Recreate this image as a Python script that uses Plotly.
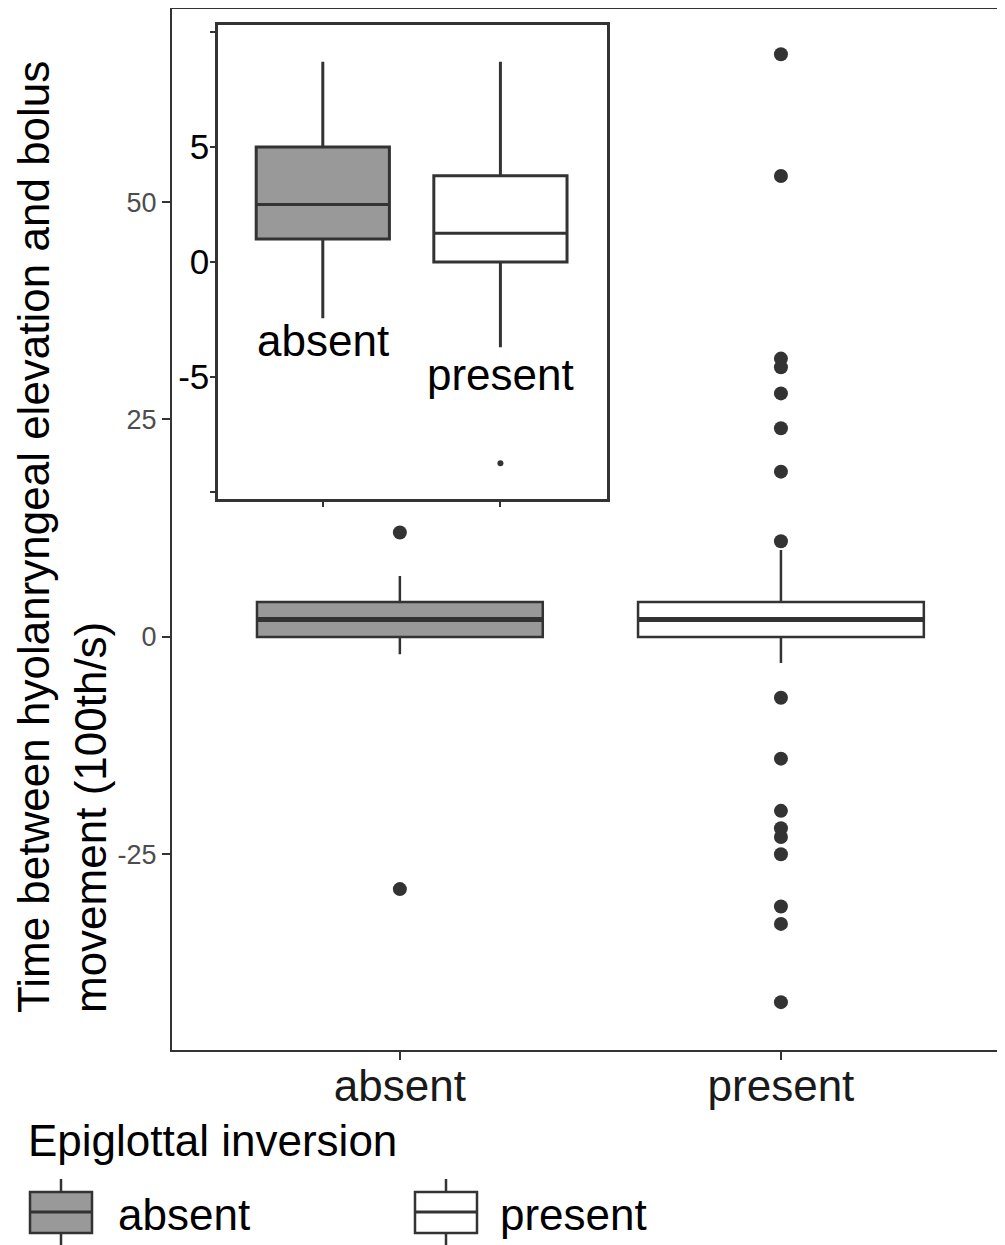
import plotly.graph_objects as go

# ---------------- data ----------------
categories = ["absent", "present"]
fill_colors = ["#999999", "#ffffff"]

main_q1 = [0, 0]
main_median = [2, 2]
main_q3 = [4, 4]
main_lowerfence = [-2, -3]
main_upperfence = [7, 10]
absent_outliers = [12, -29]
present_outliers = [67, 53, 32, 31, 28, 24, 19, 11, -7, -14, -20, -22, -23, -25, -31, -33, -42]

inset_q1 = [1, 0]
inset_median = [2.5, 1.25]
inset_q3 = [5, 3.75]
inset_lowerfence = [-2.45, -3.7]
inset_upperfence = [8.7, 8.7]
inset_present_outliers = [-8.75]
inset_label_y = [-3.4, -4.9]

main_yticks = [-25, 0, 25, 50]
main_yticktext = ["-25", "0", "25", "50"]
inset_yticks = [-10, -5, 0, 5, 10]
inset_yticktext = ["", "-5", "0", "5", ""]

y_title = "Time between hyolanryngeal elevation and bolus<br>movement (100th/s)"
legend_title = "Epiglottal inversion"

# ---------------- layout helpers ----------------
OFF = 8                      # browser body margin
W, H = 1005 - OFF, 1245 - OFF
L, R, T, B = 172 - OFF, 0, 9 - OFF, 195
PW, PH = W - L - R, H - T - B


def px_x(p):
    return (p - OFF - L) / PW


def px_y(p):
    return (H - B - (p - OFF)) / PH


LINE = "#333333"
BOXW = 0.75
BIG = 44

fig = go.Figure()

# main boxes
for i, cat in enumerate(categories):
    fig.add_trace(go.Box(
        x=[i], q1=[main_q1[i]], median=[main_median[i]], q3=[main_q3[i]],
        lowerfence=[main_lowerfence[i]], upperfence=[main_upperfence[i]],
        fillcolor=fill_colors[i], line=dict(color=LINE, width=2.5),
        width=BOXW, boxpoints=False, whiskerwidth=0, name=cat,
        showlegend=False, xaxis="x", yaxis="y", hoverinfo="skip"))
    # thicker median line (ggplot style)
    fig.add_trace(go.Scatter(
        x=[i - BOXW / 2, i + BOXW / 2], y=[main_median[i]] * 2, mode="lines",
        line=dict(color=LINE, width=5), showlegend=False, hoverinfo="skip",
        xaxis="x", yaxis="y"))

fig.add_trace(go.Scatter(
    x=[0] * len(absent_outliers), y=absent_outliers, mode="markers",
    marker=dict(color=LINE, size=14), showlegend=False, xaxis="x", yaxis="y"))
fig.add_trace(go.Scatter(
    x=[1] * len(present_outliers), y=present_outliers, mode="markers",
    marker=dict(color=LINE, size=14), showlegend=False, xaxis="x", yaxis="y"))

# inset boxes
for i, cat in enumerate(categories):
    fig.add_trace(go.Box(
        x=[i], q1=[inset_q1[i]], median=[inset_median[i]], q3=[inset_q3[i]],
        lowerfence=[inset_lowerfence[i]], upperfence=[inset_upperfence[i]],
        fillcolor=fill_colors[i], line=dict(color=LINE, width=3),
        width=BOXW, boxpoints=False, whiskerwidth=0, name=cat,
        showlegend=False, xaxis="x2", yaxis="y2", hoverinfo="skip"))

fig.add_trace(go.Scatter(
    x=[1] * len(inset_present_outliers), y=inset_present_outliers, mode="markers",
    marker=dict(color=LINE, size=6), showlegend=False, xaxis="x2", yaxis="y2"))

# inset category labels (text inside inset)
for i, cat in enumerate(categories):
    fig.add_annotation(x=i, y=inset_label_y[i], xref="x2", yref="y2", text=cat,
                       showarrow=False, font=dict(size=BIG, color="#000000"),
                       xanchor="center", yanchor="middle")

# y-axis title
fig.add_annotation(x=px_x(62), y=px_y(537), xref="paper", yref="paper",
                   text=y_title, textangle=-90, align="left", showarrow=False,
                   font=dict(size=BIG, color="#000000"),
                   xanchor="center", yanchor="middle")

# legend (drawn manually to mimic ggplot boxplot keys)
fig.add_annotation(x=px_x(26), y=px_y(1140), xref="paper", yref="paper",
                   text=legend_title, showarrow=False,
                   font=dict(size=BIG, color="#000000"),
                   xanchor="left", yanchor="middle")
legend_x = [30, 415]
legend_text_x = [116, 498]
for i, cat in enumerate(categories):
    x0, x1 = legend_x[i], legend_x[i] + 62
    xm = (x0 + x1) / 2
    fig.add_shape(type="rect", xref="paper", yref="paper",
                  x0=px_x(x0), x1=px_x(x1), y0=px_y(1233), y1=px_y(1192),
                  fillcolor=fill_colors[i], line=dict(color=LINE, width=2.5))
    fig.add_shape(type="line", xref="paper", yref="paper",
                  x0=px_x(x0), x1=px_x(x1), y0=px_y(1212), y1=px_y(1212),
                  line=dict(color=LINE, width=3))
    fig.add_shape(type="line", xref="paper", yref="paper",
                  x0=px_x(xm), x1=px_x(xm), y0=px_y(1192), y1=px_y(1179),
                  line=dict(color=LINE, width=2.5))
    fig.add_shape(type="line", xref="paper", yref="paper",
                  x0=px_x(xm), x1=px_x(xm), y0=px_y(1233), y1=px_y(1246),
                  line=dict(color=LINE, width=2.5))
    fig.add_annotation(x=px_x(legend_text_x[i]), y=px_y(1214), xref="paper", yref="paper",
                       text=cat, showarrow=False, font=dict(size=BIG, color="#000000"),
                       xanchor="left", yanchor="middle")

fig.update_layout(
    width=W, height=H, autosize=False,
    margin=dict(l=L, r=R, t=T, b=B, pad=0),
    paper_bgcolor="white", plot_bgcolor="white",
    font=dict(family="Liberation Sans, Arial, sans-serif", color="#000000"),
    boxmode="overlay",
    showlegend=False,
    xaxis=dict(domain=[0, 1], range=[-0.598, 1.588], tickmode="array",
               tickvals=list(range(len(categories))), ticktext=categories,
               tickfont=dict(size=BIG, color="#1a1a1a"), ticklabelstandoff=-12,
               ticks="outside", ticklen=8, tickwidth=2, tickcolor=LINE,
               showline=True, mirror=True, linecolor=LINE, linewidth=2,
               showgrid=False, zeroline=False),
    yaxis=dict(domain=[0, 1], range=[-47.5, 72.2], tickmode="array",
               tickvals=main_yticks, ticktext=main_yticktext,
               tickfont=dict(size=27, color="#4d4d4d"),
               ticks="outside", ticklen=8, tickwidth=2, tickcolor=LINE,
               showline=True, mirror=False, linecolor=LINE, linewidth=2,
               showgrid=False, zeroline=False),
    xaxis2=dict(domain=[px_x(218), px_x(607)], range=[-0.59, 1.6], anchor="y2",
                tickmode="array", tickvals=list(range(len(categories))),
                ticktext=["", ""], ticks="outside", ticklen=5, tickwidth=1.5,
                tickcolor=LINE, showline=True, mirror=True, linecolor=LINE,
                linewidth=2.5, showgrid=False, zeroline=False),
    yaxis2=dict(domain=[px_y(499), px_y(25)], range=[-10.3, 10.3], anchor="x2",
                tickmode="array", tickvals=inset_yticks, ticktext=inset_yticktext,
                tickfont=dict(size=35, color="#000000"), ticklabelstandoff=-6,
                ticks="outside", ticklen=5, tickwidth=1.5, tickcolor=LINE,
                showline=True, mirror=True, linecolor=LINE, linewidth=2.5,
                showgrid=False, zeroline=False),
)

fig.write_html("out.html")
